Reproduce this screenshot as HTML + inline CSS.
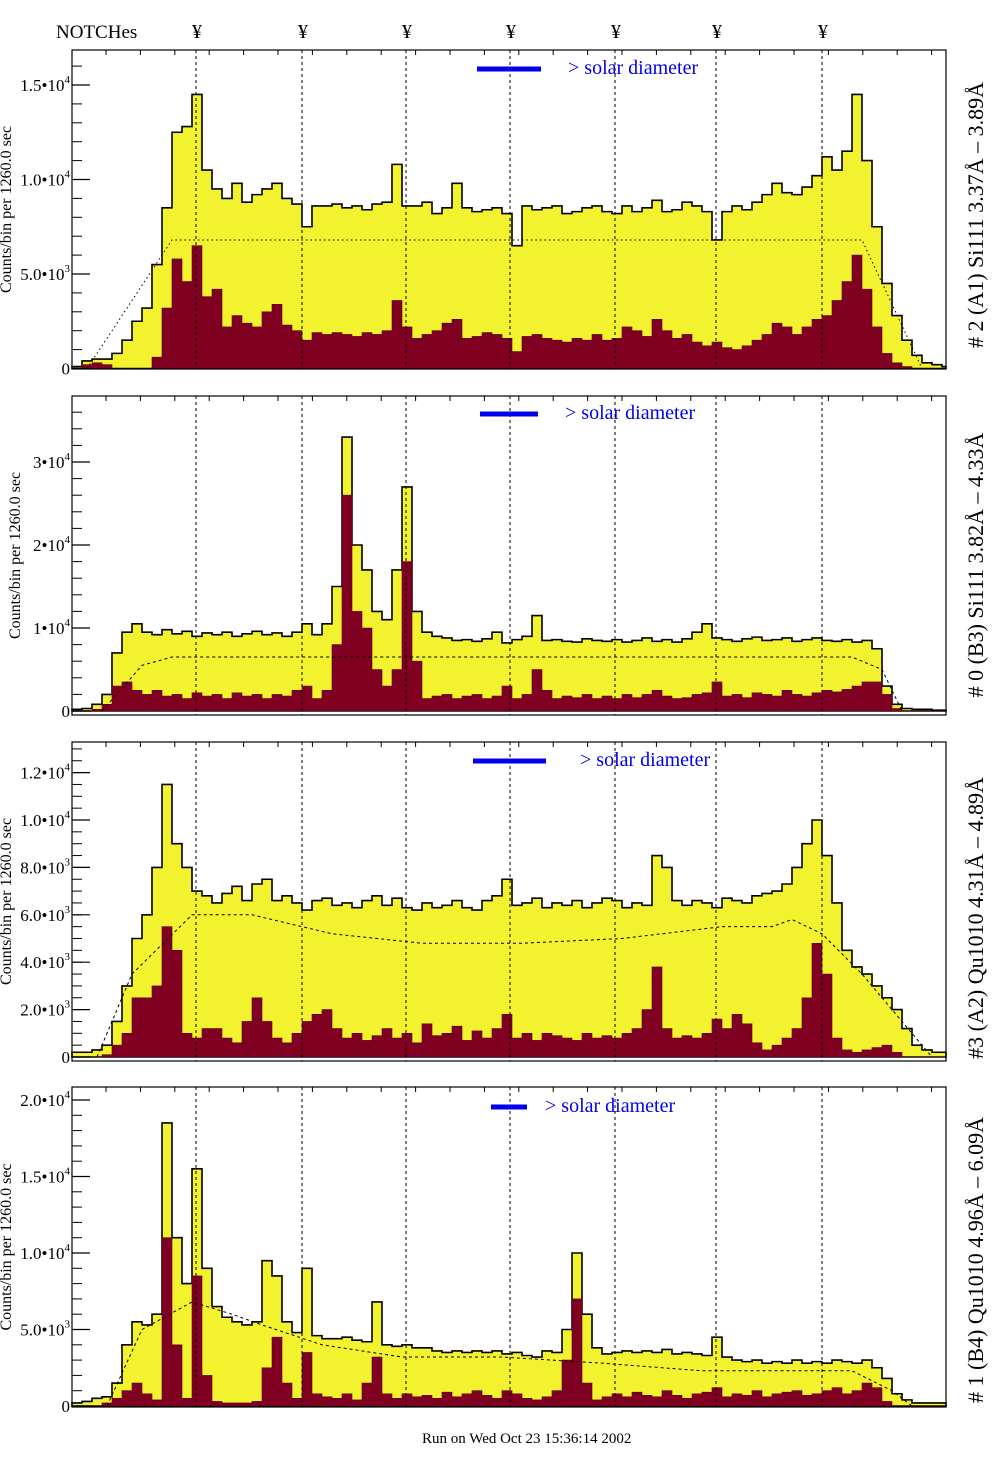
<!DOCTYPE html>
<html><head><meta charset="utf-8"><style>
html,body{margin:0;padding:0;background:#fff;}
svg{display:block;font-family:"Liberation Serif","DejaVu Serif",serif;}
</style></head><body>
<svg id="chart" width="1004" height="1476" viewBox="0 0 1004 1476" xmlns="http://www.w3.org/2000/svg">
<text x="56" y="38" font-size="19">NOTCHes</text>
<text x="422" y="1443" font-size="15">Run on Wed Oct 23 15:36:14 2002</text>
</svg>
<script>
// bins: 10 px-wide channels starting at the left frame edge
const notchPositions = [12.4, 23, 33.4, 43.8, 54.3, 64.4, 75];
const p1Yellow = [0.1,0.4,0.5,0.5,0.8,1.5,2.5,3.2,5.5,8.5,12.5,12.8,14.5,10.5,9.5,9,9.8,8.8,9.2,9.5,9.8,9,8.7,7.5,8.6,8.6,8.7,8.5,8.6,8.4,8.7,8.8,10.8,8.6,8.6,8.8,8.2,8.5,9.8,8.5,8.3,8.4,8.5,8.2,6.5,8.6,8.4,8.5,8.6,8.2,8.3,8.5,8.6,8.3,8.2,8.6,8.3,8.5,8.9,8.3,8.4,8.8,8.6,8.3,6.8,8.3,8.6,8.4,8.8,9.2,9.8,9.3,9.2,9.6,10.2,11.2,10.5,11.5,14.5,11,7.5,4.5,2.8,1.5,0.7,0.3,0.2,0.1];
const p1Red = [0,0.2,0.3,0.2,0,0,0,0,0.6,3.2,5.8,4.6,6.5,3.8,4.2,2.2,2.8,2.4,2.2,3,3.4,2.3,2,1.5,1.9,1.8,1.9,1.8,1.7,1.9,1.8,2,3.6,2.2,1.6,1.8,2,2.4,2.6,1.6,1.7,1.9,1.8,1.6,0.9,1.7,1.8,1.6,1.5,1.4,1.6,1.5,1.8,1.5,1.6,2.2,2,1.7,2.6,2,1.6,1.8,1.4,1.2,1.4,1.1,1,1.2,1.5,1.8,2.4,2.2,1.8,2.2,2.6,2.8,3.6,4.6,6,4.2,2.2,0.8,0.3,0.1,0,0,0,0];
const p1CurveX = [1.5,10,79,85];
const p1CurveY = [0,6.8,6.8,0];
const p2Yellow = [0.2,0.3,0.8,2,7,9.5,10.5,9.5,9.2,9.8,9.3,9.6,9,9.4,9.2,9.5,9,9.3,9.6,9.2,9.4,9,9.5,10.5,9.2,10.5,15,33,20,17,12,11,17,27,12,9.5,9,8.8,8.5,8.6,8.4,8.7,9.5,8.2,8.6,9,11.5,8.5,8.6,8.4,8.3,8.7,8.5,8.4,8.6,8.3,8.5,8.8,8.4,8.6,8.3,8.7,9.5,10.5,8.8,8.6,8.4,8.7,8.9,8.5,8.6,8.8,8.4,8.6,8.8,8.5,8.4,8.6,8.3,8.5,7.5,3,0.8,0.3,0.2,0.2,0.1,0.1];
const p2Red = [0,0,0.2,0.8,3,3.5,2.5,2,2.5,1.8,2,1.5,2.2,1.8,2,1.5,2.2,1.8,2,1.5,2,1.8,2.5,3,1.5,2.5,8,26,12,10,5,3,5,18,6,1.5,1.8,2,1.5,1.8,2,1.5,1.8,3,1.5,2,5,2.5,1.5,1.8,1.6,2,1.5,1.8,1.5,2,1.6,2,2.5,1.8,1.5,1.6,2,2.2,3.5,1.8,2,1.6,2.2,2,1.8,2.5,2,1.8,2.2,2.5,2.3,2.6,3,3.5,3.5,2,0.3,0,0,0,0,0];
const p2CurveX = [3,7,10,78,81,83];
const p2CurveY = [0,5.5,6.5,6.5,5,0];
const p3Yellow = [0.2,0.2,0.3,0.5,1.5,3,5,6,8,11.5,9,8,7,6.8,6.5,6.9,7.2,6.6,7.3,7.5,6.6,6.8,6.5,6.2,6.6,6.7,6.4,6.5,6.3,6.6,6.8,6.4,6.7,6.3,6.2,6.5,6.3,6.4,6.6,6.3,6.2,6.6,6.8,7.5,6.4,6.5,6.7,6.3,6.5,6.4,6.6,6.3,6.5,6.7,6.6,6.3,6.5,6.4,8.5,8,6.6,6.4,6.6,6.5,6.3,6.7,6.6,6.5,6.8,6.9,7,7.3,8,9,10,8.5,6.5,4.5,3.8,3.5,3,2.5,2,1.2,0.5,0.3,0.2,0.2];
const p3Red = [0,0,0,0.1,0.5,1,2.5,2.5,3,5.5,4.5,1,0.8,1.2,1.2,0.8,0.6,1.5,2.5,1.5,0.8,0.6,1,1.5,1.8,2,1.2,0.8,1,0.7,0.9,1.2,0.8,1,0.6,1.4,0.9,1,1.3,0.7,1.1,0.8,1.2,1.8,0.8,1,0.7,1,0.9,0.8,0.7,1,0.8,0.9,0.8,1,1.2,2,3.8,1.2,0.8,0.9,0.8,1,1.6,1.2,1.8,1.4,0.6,0.3,0.5,0.8,1.2,2.5,4.8,3.5,0.8,0.3,0.2,0.3,0.4,0.5,0.2,0,0,0,0,0];
const p3CurveX = [2.5,6,12,18,26,35,45,55,65,70,72,75,79,86];
const p3CurveY = [0,3.5,6,6,5.2,4.8,4.8,5,5.5,5.5,5.8,5.2,3.5,0];
const p4Yellow = [0.2,0.3,0.5,0.6,1.5,4,5.5,5.3,6,18.5,11,8,15.5,9,6.5,5.8,5.5,5.3,5.5,9.5,8.5,5.5,4.8,9,4.6,4.4,4.4,4.5,4.3,4.2,6.8,4,3.9,4,3.8,3.8,3.6,3.5,3.6,3.5,3.6,3.5,3.6,3.4,3.5,3.3,3.2,3.6,3.5,5,10,6,3.8,3.4,3.5,3.6,3.5,3.6,3.5,3.7,3.4,3.5,3.4,3.3,4.5,3.2,3,2.9,3,2.8,2.9,2.8,3,2.8,2.9,2.8,3,2.9,2.8,3,2.5,1.8,0.8,0.4,0.2,0.2,0.2,0.2];
const p4Red = [0,0,0,0.2,0.5,1,1.5,0.8,0.4,11,4,0.5,8.5,2,0.3,0.2,0.2,0.2,0.3,2.5,4.5,1.5,0.5,3.5,0.8,0.6,0.5,0.8,0.4,1.5,3.2,0.8,0.5,0.8,0.6,0.7,0.5,0.9,0.6,0.8,1,0.7,0.5,1,0.8,0.5,0.4,0.6,1,3,7,1.5,0.4,0.6,0.8,0.6,0.9,0.7,0.6,1,0.7,0.5,0.8,0.9,1.2,0.6,0.8,0.7,1,0.6,0.8,0.9,1,0.7,0.8,1,1.2,0.8,1,1.5,1.2,0.3,0,0,0,0,0,0];
const p4CurveX = [3.5,7,12,16,19,25,33,43,53,63,78,82,84];
const p4CurveY = [0,5,6.8,6,5.3,4,3.2,3.2,2.8,2.3,2.3,1,0];
const p1Ticks = [0,5,10,15], p1TickLabels = ["0","5.0•10|3","1.0•10|4","1.5•10|4"];
const p2Ticks = [0,10,20,30], p2TickLabels = ["0","1•10|4","2•10|4","3•10|4"];
const p3Ticks = [0,2,4,6,8,10,12], p3TickLabels = ["0","2.0•10|3","4.0•10|3","6.0•10|3","8.0•10|3","1.0•10|4","1.2•10|4"];
const p4Ticks = [0,5,10,15,20], p4TickLabels = ["0","5.0•10|3","1.0•10|4","1.5•10|4","2.0•10|4"];

const NS = "http://www.w3.org/2000/svg";
const svg = document.getElementById('chart');
function mk(tag, attrs, parent){const e=document.createElementNS(NS,tag);for(const k in attrs)e.setAttribute(k,attrs[k]);(parent||svg).appendChild(e);return e;}
const X0=72, X1=946, BW=10;
function xs(b){return Math.min(X1, X0 + b*BW);}

const panels = [
 {top:50,bot:369,zero:368.5,ppu:18.9,yel:p1Yellow,red:p1Red,cx:p1CurveX,cy:p1CurveY,ticks:p1Ticks,tl:p1TickLabels,minor:1,title:"# 2 (A1) Si111  3.37Å – 3.89Å",ty:215,leg:[477,541,69,568],name:"a1"},
 {top:396,bot:715,zero:711,ppu:8.3,yel:p2Yellow,red:p2Red,cx:p2CurveX,cy:p2CurveY,ticks:p2Ticks,tl:p2TickLabels,minor:2,title:"# 0 (B3) Si111  3.82Å – 4.33Å",ty:565,leg:[480,538,414,565],name:"b3"},
 {top:742,bot:1061,zero:1057,ppu:23.7,yel:p3Yellow,red:p3Red,cx:p3CurveX,cy:p3CurveY,ticks:p3Ticks,tl:p3TickLabels,minor:0.5,title:"#3 (A2) Qu1010  4.31Å – 4.89Å",ty:918,leg:[473,546,761,580],name:"a2"},
 {top:1087,bot:1407,zero:1406,ppu:15.3,yel:p4Yellow,red:p4Red,cx:p4CurveX,cy:p4CurveY,ticks:p4Ticks,tl:p4TickLabels,minor:1,title:"# 1 (B4) Qu1010 4.96Å – 6.09Å",ty:1260,leg:[491,527,1107,545],name:"b4"}
];

function histPath(vals,p){
  const ys=v=>Math.max(p.top, p.zero - v*p.ppu);
  let d="M"+X0+","+p.zero;
  vals.forEach((v,i)=>{const xa=xs(i),xb=xs(i+1);if(xa>=X1)return;d+=" L"+xa+","+ys(v)+" L"+xb+","+ys(v);});
  d+=" L"+X1+","+p.zero+" Z";return d;
}

panels.forEach((p,pi)=>{
  const g=mk('g',{});
  
  
  const yp=mk('path',{d:histPath(p.yel,p),fill:'#f2f22e',stroke:'#000','stroke-width':1.6},g);
  
  
  const rp=mk('path',{d:histPath(p.red,p),fill:'#800022',stroke:'#5a0015','stroke-width':0.6},g);
  
  
  let cd="";p.cx.forEach((b,i)=>{cd+=(i?" L":"M")+xs(b)+","+(p.zero-p.cy[i]*p.ppu);});
  const cp=mk('path',{d:cd,fill:'none',stroke:'#000','stroke-width':1,'stroke-dasharray':pi==0?'1.5,3':'3,3'},g);
  
  
  notchPositions.forEach(n=>{
    const l=mk('line',{x1:xs(n),x2:xs(n),y1:p.top,y2:p.bot,stroke:'#000','stroke-width':1,'stroke-dasharray':'3,3'},g);
    
    
  });
  const fr=mk('rect',{x:X0,y:p.top,width:X1-X0,height:p.bot-p.top,fill:'none',stroke:'#000','stroke-width':1.2},g);
  
  
  for(let tx=X0+34;tx<X1;tx+=34.4){mk('line',{x1:tx,x2:tx,y1:p.top,y2:p.top+5,stroke:'#000','stroke-width':1},g);}
  const maxV=(p.zero-p.top)/p.ppu;
  for(let v=0;v<=maxV;v+=p.minor){const yy=p.zero-v*p.ppu;mk('line',{x1:X0,x2:X0+10,y1:yy,y2:yy,stroke:'#000','stroke-width':1},g);}
  p.ticks.forEach((v,i)=>{
    const yy=p.zero-v*p.ppu;
    mk('line',{x1:X0,x2:X0+18,y1:yy,y2:yy,stroke:'#000','stroke-width':1.2},g);
    const parts=p.tl[i].split('|');
    const t=mk('text',{x:70,y:yy+6,'font-size':17,'text-anchor':'end'},g);
    
    
    t.textContent=parts[0];
    if(parts[1]){const s=mk('tspan',{'font-size':11,dy:-8},t);s.textContent=parts[1];}
  });
  const yc=(p.top+p.bot)/2;
  const yt=mk('text',{x:0,y:0,'font-size':16,'text-anchor':'middle',transform:'translate('+(pi==1?20:11)+','+yc+') rotate(-90)'},g);
  
  
  yt.textContent='Counts/bin per   1260.0 sec';
  const rt=mk('text',{x:0,y:0,'font-size':22,'text-anchor':'middle',transform:'translate(983,'+p.ty+') rotate(-90)'},g);
  
  
  rt.textContent=p.title;
  const lb=mk('line',{x1:p.leg[0],x2:p.leg[1],y1:p.leg[2],y2:p.leg[2],stroke:'#0000ee','stroke-width':5},g);
  
  
  const lt=mk('text',{x:p.leg[3],y:p.leg[2]+5,'font-size':20,fill:'#0000ee'},g);
  
  
  lt.textContent='> solar diameter';
});
notchPositions.forEach(n=>{
  const t=mk('text',{x:xs(n)+1,y:38,'font-size':20,'text-anchor':'middle'});
  
  
  t.textContent='¥';
});
</script>
</body></html>
